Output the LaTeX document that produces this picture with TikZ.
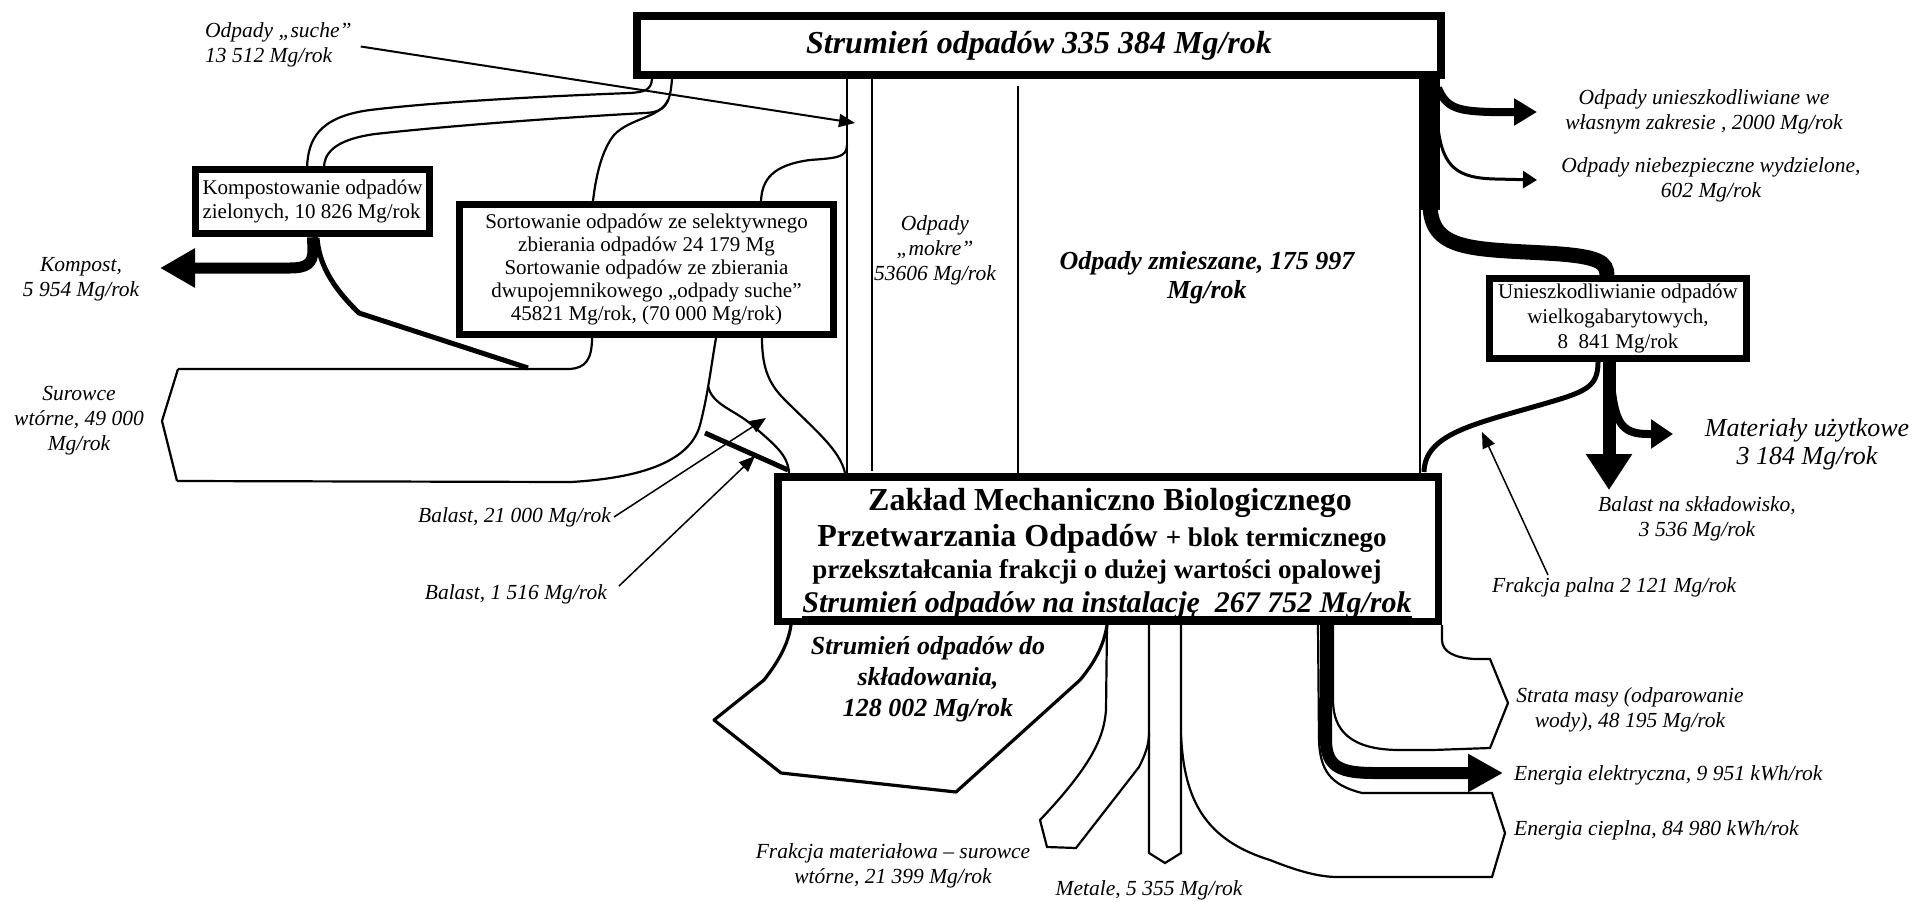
\documentclass[tikz,border=0pt]{standalone}
\usepackage{fontspec}
\setmainfont{Liberation Serif}
\usetikzlibrary{arrows.meta}

\newcommand\labfont{\fontsize{21.5}{25}\selectfont\itshape}
\newcommand\boxfont{\fontsize{21}{24}\selectfont}

\begin{document}
\begin{tikzpicture}[x=1pt,y=-1pt,
  frame/.style={draw, line width=7.5pt, fill=white, inner sep=0pt, align=center, font=\boxfont},
  flow/.style={line width=2.2pt},
  edge/.style={line width=3.2pt, line join=round},
  heavy/.style={line width=5pt},
  pointer/.style={line width=1.5pt, -{Triangle[length=16pt,width=13pt]}},
  lab/.style={font=\labfont, inner sep=0pt, align=center}]
\useasboundingbox (0,0) rectangle (1914,902);

% ---------- process boxes ----------
\node[frame, minimum width=804pt, minimum height=59pt] (stream) at (1039,45.5)
  {\fontsize{32}{36}\selectfont\bfseries\itshape Strumień odpadów 335 384 Mg/rok};
\node[frame, align=left, minimum width=234pt, minimum height=64pt] (compost) at (312.5,201.5)
  {Kompostowanie odpadów\\zielonych, 10 826 Mg/rok};
\node[frame, minimum width=374pt, minimum height=130pt, font=\fontsize{21}{23}\selectfont] (sorting) at (646.5,269.5)
  {Sortowanie odpadów ze selektywnego\\zbierania odpadów 24 179 Mg\\Sortowanie odpadów ze zbierania\\dwupojemnikowego „odpady suche”\\45821 Mg/rok, (70 000 Mg/rok)};
\node[frame, minimum width=257pt, minimum height=80pt, font=\fontsize{21}{25}\selectfont] (bulky) at (1618,318.5)
  {Unieszkodliwianie odpadów\\wielkogabarytowych,\\8\ \ 841 Mg/rok};
\node[frame, minimum width=660.5pt, minimum height=144.5pt] (plant) at (1108,549) {};

\node[inner sep=0pt, anchor=base, font=\fontsize{32}{36}\selectfont\bfseries] (pl1) at (1110,510)
  {Zakład Mechaniczno Biologicznego};
\node[inner sep=0pt, anchor=base, font=\fontsize{32}{36}\selectfont\bfseries] (pl2) at (1102,546)
  {Przetwarzania Odpadów {\fontsize{27}{30}\selectfont + blok termicznego}};
\node[inner sep=0pt, anchor=base, font=\fontsize{27}{30}\selectfont\bfseries] (pl3) at (1097,578)
  {przekształcania frakcji o dużej wartości opalowej};
\node[inner sep=0pt, anchor=base, font=\fontsize{30}{34}\selectfont\bfseries\itshape] (pl4) at (1107,612)
  {Strumień odpadów na instalację\ \ 267 752 Mg/rok};
\draw[line width=1.8pt] ([yshift=-5pt]pl4.base west) -- ([yshift=-5pt]pl4.base east);

% ---------- channels of the main stream ----------
\draw[flow] (847,79) -- (847,473);
\draw[flow] (872,79) -- (872,471);
\draw[flow] (1018,86) -- (1018,473);
\draw[flow] (1420,79) -- (1420,473);

% stream to composting
\draw[flow] (652,79) .. controls (651,90) and (645,92) .. (630,93)
  .. controls (500,98) and (420,104) .. (370,110) .. controls (318,117) and (308,140) .. (307,168);
\draw[flow] (672,79) .. controls (670,105) and (665,112) .. (645,113)
  .. controls (520,120) and (430,128) .. (375,134) .. controls (332,140) and (324,155) .. (324,168);
% stream to sorting
\draw[flow] (668,100) .. controls (660,118) and (630,118) .. (614,135)
  .. controls (602,150) and (596,175) .. (593,201);
\draw[flow] (847,145) .. controls (847,158) and (835,158) .. (810,160)
  .. controls (772,165) and (762,180) .. (761,201);

% compost output
\draw[line width=11pt, -{Triangle[length=35pt,width=37pt]}] (compost.south) -- (313,250)
  .. controls (313,264) and (306,268) .. (290,268) -- (160,268);
\draw[heavy] (317,238) .. controls (319,262) and (330,285) .. (359,313) -- (528,368);

% secondary raw materials
\draw[flow] (178,369) -- (570,369) .. controls (585,368) and (592,360) .. (592,338);
\draw[flow] (178,369) -- (162,421) -- (177,481);
\draw[flow] (177,481) -- (571,482) .. controls (640,478) and (690,462) .. (700,425)
  .. controls (708,395) and (712,360) .. (716,338);
\draw[flow] (708,386) .. controls (712,405) and (735,410) .. (752,425)
  .. controls (775,445) and (788,455) .. (789,473);
\draw[flow] (762,338) .. controls (762,370) and (770,385) .. (785,400)
  .. controls (815,430) and (840,450) .. (845,473);
\draw[heavy] (705,433) -- (788,470);

% right side: separated streams
\draw[line width=19pt] (1430,79) -- (1430,210);
\draw[line width=15pt] (1430,205) .. controls (1431,250) and (1470,249) .. (1545,253)
  .. controls (1600,256) and (1607,262) .. (1607,276);
\draw[line width=8pt, -{Triangle[length=23pt,width=26pt]}] (1438,88)
  .. controls (1446,108) and (1458,111) .. (1490,112) -- (1537,112);
\draw[line width=3pt, -{Triangle[length=14pt,width=17pt]}] (1438,128)
  .. controls (1443,168) and (1458,178) .. (1495,179) -- (1537,180);

% bulky waste outputs
\draw[line width=13pt, -{Triangle[length=36pt,width=44pt]}] (bulky.south -| 1609,0) -- (1609,490);
\draw[line width=8pt, -{Triangle[length=22pt,width=28pt]}] (1612,392)
  .. controls (1616,426) and (1625,434) .. (1648,434) -- (1673,434);
\draw[heavy] (1598,362) .. controls (1598,388) and (1585,392) .. (1540,405)
  .. controls (1470,425) and (1425,435) .. (1424,472);

% ---------- plant outputs ----------
\draw[edge] (791,625) .. controls (788,645) and (778,662) .. (764,680) -- (714,720)
  -- (781,773) -- (956,792) -- (1080,680) .. controls (1095,662) and (1104,645) .. (1107,625);
\draw[flow] (1107,625) -- (1106,710) .. controls (1104,735) and (1095,762) .. (1040,820)
  -- (1047,847) -- (1076,848) -- (1139,767) .. controls (1145,755) and (1149,745) .. (1149,733) -- (1149,625);
\draw[flow] (1149,733) -- (1149,853) -- (1165,863) -- (1181,853) -- (1181,625);
\draw[flow] (1181,735) .. controls (1184,800) and (1205,840) .. (1270,860)
  .. controls (1300,872) and (1320,877) .. (1338,877) -- (1492,877) -- (1505,833) -- (1492,793)
  -- (1362,793) .. controls (1330,785) and (1320,770) .. (1319,740) -- (1318,625);
\draw[flow] (1442,625) -- (1442,640) .. controls (1442,652) and (1455,658) .. (1475,659)
  -- (1490,659) -- (1508,703) -- (1490,748) -- (1433,750) -- (1400,750)
  .. controls (1350,750) and (1333,730) .. (1333,700) -- (1333,625);
\draw[line width=12pt, -{Triangle[length=35pt,width=36pt]}] (1326,625) -- (1326,740)
  .. controls (1326,768) and (1342,773) .. (1375,773) -- (1503,773);

% ---------- labels ----------
\node[lab, align=left, anchor=west] (dry) at (205,44.5) {Odpady „suche”\\13 512 Mg/rok};
\draw[pointer, line width=2pt] ([xshift=9pt,yshift=-2pt]dry.east) -- (855,123);
\node[lab] (compostout) at (81,279.5) {Kompost,\\5 954 Mg/rok};
\node[lab] (raw) at (79,421) {Surowce\\wtórne, 49 000\\Mg/rok};
\node[lab, anchor=east] (bal21) at (611,517) {Balast, 21 000 Mg/rok};
\draw[pointer] ([xshift=3pt]bal21.east) -- (766,418);
\node[lab, anchor=east] (bal15) at (607,594) {Balast, 1 516 Mg/rok};
\draw[pointer] ([shift={(12pt,8pt)}]bal15.east) -- (755,456);
\node[lab] (wet) at (935,250) {Odpady\\„mokre”\\53606 Mg/rok};
\node[lab, font=\fontsize{26}{29}\selectfont\bfseries\itshape] (mixed) at (1207,278) {Odpady zmieszane, 175 997\\Mg/rok};
\node[lab] (own) at (1704,112) {Odpady unieszkodliwiane we\\własnym zakresie , 2000 Mg/rok};
\node[lab] (haz) at (1711,180) {Odpady niebezpieczne wydzielone,\\602 Mg/rok};
\node[lab, font=\fontsize{26}{28}\selectfont\itshape] (useful) at (1807,444) {Materiały użytkowe\\3 184 Mg/rok};
\node[lab] (ballast) at (1697,519) {Balast na składowisko,\\3 536 Mg/rok};
\node[lab, anchor=west] (palna) at (1492,587) {Frakcja palna 2 121 Mg/rok};
\draw[pointer] ([xshift=56pt,yshift=2pt]palna.north west) -- (1482,432);
\node[lab] (loss) at (1630,710) {Strata masy (odparowanie\\wody), 48 195 Mg/rok};
\node[lab, anchor=west] (elec) at (1514,775) {Energia elektryczna, 9 951 kWh/rok};
\node[lab, anchor=west] (heat) at (1514,830) {Energia cieplna, 84 980 kWh/rok};
\node[lab] (matfr) at (893,866) {Frakcja materiałowa – surowce\\wtórne, 21 399 Mg/rok};
\node[lab] (metals) at (1149,890) {Metale, 5 355 Mg/rok};
\node[lab, font=\fontsize{26}{31}\selectfont\bfseries\itshape] (landfill) at (928,679)
  {Strumień odpadów do\\składowania,\\128 002 Mg/rok};
\end{tikzpicture}
\end{document}
